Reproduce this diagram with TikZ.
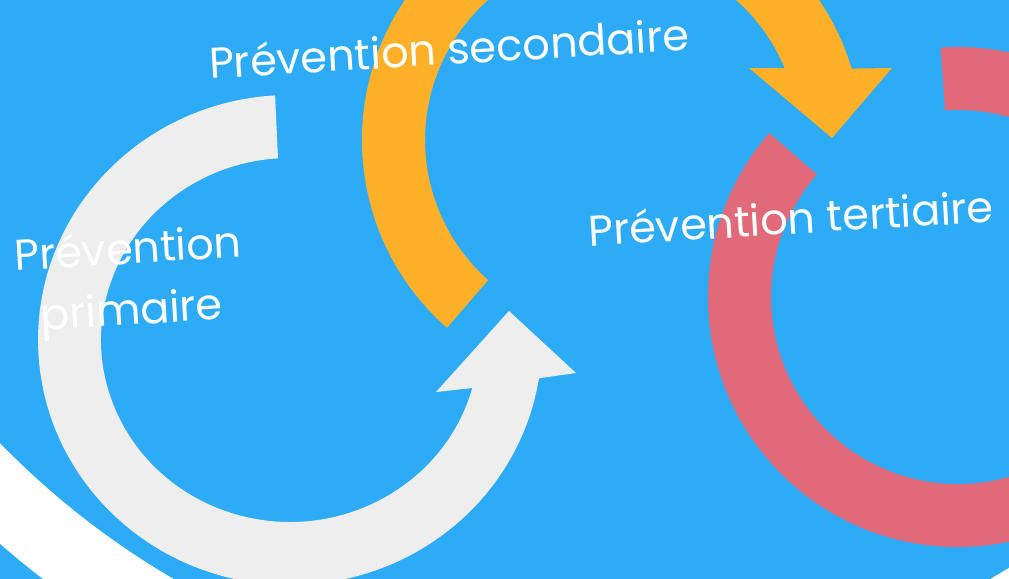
\documentclass[tikz,border=0pt]{standalone}
\usepackage{fontspec}
\setmainfont{Poppins}
\definecolor{fond}{HTML}{2EABF7}
\definecolor{gris}{HTML}{EEEEEE}
\definecolor{jaune}{HTML}{FDB028}
\definecolor{rose}{HTML}{E06A79}
\begin{document}
\begin{tikzpicture}[x=0.025cm,y=-0.025cm,
 etiquette/.style={text=white,font=\fontsize{30.6}{43.4}\selectfont,rotate=3.4,inner sep=0pt}]
 \useasboundingbox (0,0) rectangle (1009,579);
 \clip (0,0) rectangle (1009,579);
 \fill[fond](0,0) rectangle (1009,579);
 \fill[white,even odd rule](582,-123) circle (885) (582,-123) circle (812);
 % primaire
 \fill[gris](275.1,95.4) arc[start angle=-93.4,end angle=-351,x radius=252,y radius=245]
  -- (576,373) -- (509,311) -- (436,392) -- (472.3,388)
  arc[start angle=-344.7,end angle=-93.65,x radius=189,y radius=182] -- cycle;
 % secondaire
 \fill[jaune](447,327.8) arc[start angle=131.3,end angle=343.4,radius=250]
  -- (892,68) -- (832,138) -- (749,68) -- (784.7,68.2)
  arc[start angle=337.4,end angle=131.5,radius=187] -- cycle;
 % tertiaire
 \fill[rose](769.3,133) arc[start angle=221,end angle=-94,radius=250]
  -- (945,110.5) arc[start angle=-94,end angle=221,radius=187] -- cycle;
 \node[etiquette,anchor=base] (secondaire) at (450,64.5) {Prévention secondaire};
 \node[etiquette,anchor=base] (tertiaire) at (792,234) {Prévention tertiaire};
 \node[etiquette,align=center] (primaire) at (130,283) {Prévention\\primaire};
\end{tikzpicture}
\end{document}
